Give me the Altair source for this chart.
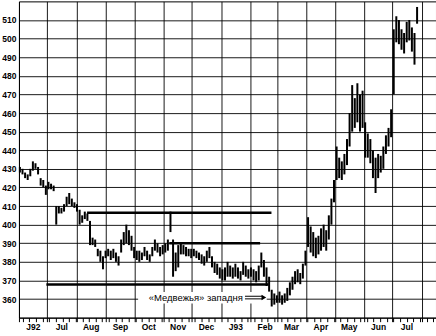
import altair as alt
import pandas as pd

# ---------------- data ----------------
month_labels = ["J92", "Jul", "Aug", "Sep", "Oct", "Nov", "Dec", "J93",
                "Feb", "Mar", "Apr", "May", "Jun", "Jul", ""]
y_ticks = list(range(360, 511, 10))

high = [
    431, 430, 428, 427, 430, 434, 433, 431, 425, 424, 421,   # Jun 92
    423, 422, 421, 410, 410, 409, 411, 415, 417, 414, 412,   # Jul
    411, 408, 405, 407, 406, 402, 393, 392, 387, 386, 383,   # Aug
    386, 387, 386, 387, 385, 383, 392, 396, 400, 397, 394,   # Sep
    388, 386, 386, 385, 388, 386, 384, 388, 392, 390, 388,   # Oct
    389, 390, 392, 407, 392, 385, 389, 390, 389, 388, 387,   # Nov
    387, 387, 386, 385, 384, 383, 386, 388, 383, 380, 379,   # Dec
    377, 376, 377, 380, 378, 377, 379, 377, 375, 380, 378,   # Jan 93
    376, 377, 376, 375, 378, 385, 381, 377, 372, 365, 363,   # Feb
    362, 364, 362, 363, 366, 369, 372, 375, 376, 374, 379,   # Mar
    386, 404, 399, 396, 393, 394, 398, 400, 397, 405, 414,   # Apr
    424, 442, 436, 434, 438, 446, 460, 475, 468, 476, 470,   # May
    472, 455, 449, 446, 440, 436, 438, 437, 442, 448, 452,   # Jun
    462, 505, 512, 510, 505, 503, 509, 510, 506, 503, 517,   # Jul
]
low = [
    428, 427, 425, 424, 426, 429, 430, 427, 421, 420, 416,
    419, 419, 418, 400, 406, 406, 407, 410, 411, 410, 409,
    407, 400, 401, 403, 402, 389, 389, 388, 383, 380, 376,
    382, 383, 381, 382, 380, 378, 385, 389, 390, 389, 386,
    382, 381, 380, 381, 383, 381, 380, 383, 386, 385, 383,
    384, 385, 386, 396, 372, 375, 377, 384, 384, 383, 383,
    382, 383, 382, 381, 379, 378, 380, 382, 377, 374, 373,
    371, 370, 370, 372, 372, 371, 372, 371, 370, 373, 372,
    371, 372, 370, 369, 370, 377, 372, 367, 364, 356, 357,
    358, 358, 357, 358, 359, 362, 365, 368, 369, 368, 371,
    378, 388, 385, 383, 382, 384, 386, 388, 386, 392, 400,
    412, 424, 425, 424, 427, 432, 442, 450, 452, 455, 450,
    452, 436, 436, 433, 425, 417, 425, 428, 430, 438, 442,
    447, 470, 498, 497, 494, 492, 498, 499, 493, 486, 508,
]

level_value = [406.4, 390.0, 367.8]
level_from = ["1992-08-12", "1992-11-07", "1992-06-30"]
level_to = ["1993-02-23", "1993-02-11", "1993-02-20"]

note_text = "«Медвежья» западня"

# ---------------- tables ----------------
dates = pd.date_range("1992-06-02", "1993-07-27", periods=len(high))
bars = pd.DataFrame({"date": dates, "high": high, "low": low})
levels = pd.DataFrame({"date": pd.to_datetime(level_from),
                       "end": pd.to_datetime(level_to),
                       "low": level_value})
note_bg = pd.DataFrame({"date": [pd.Timestamp("1992-10-05")], "end": [pd.Timestamp("1993-02-18")],
                        "low": [357.6], "high": [363.8]})
note = pd.DataFrame({"date": [pd.Timestamp("1992-12-05")], "low": [360.8], "t": [note_text]})
arrow = pd.DataFrame({"date": [pd.Timestamp("1993-01-26")] * 2, "end": [pd.Timestamp("1993-02-14")] * 2,
                      "low": [360.1, 361.5]})
arrow_head = pd.DataFrame({"date": [pd.Timestamp("1993-02-15")], "low": [360.8]})


def dt(ts):
    return alt.DateTime(year=ts.year, month=ts.month, date=ts.day)


month_starts = pd.date_range("1992-06-01", "1993-08-01", freq="MS")
weekly = pd.date_range("1992-06-05", "1993-08-13", freq="W-FRI")
tick_dates = sorted(set(month_starts) | set(weekly))

x_scale = alt.Scale(domain=[alt.DateTime(year=1992, month=6, date=1),
                            alt.DateTime(year=1993, month=8, date=16)])
y_scale = alt.Scale(domain=[350, 520], nice=False, zero=False)

label_array = "[" + ",".join(f"'{m}'" for m in month_labels) + "]"
label_expr = (f"date(datum.value) == 1 ? {label_array}"
              f"[(year(datum.value) - 1992) * 12 + month(datum.value) - 5] : ''")

x_axis = alt.Axis(
    values=[dt(t) for t in tick_dates], title=None, grid=True,
    gridColor="black", gridWidth=1,
    gridOpacity={"condition": {"test": "date(datum.value) == 1", "value": 0.9}, "value": 0},
    labelExpr=label_expr, labelOffset=14, labelOverlap=False, labelFlush=False,
    tickSize=4, tickColor="black", tickWidth=1, domainColor="black", labelPadding=1,
    labelFontSize=8.5, labelFontWeight="bold", labelColor="black", labelFont="Liberation Sans",
)
y_axis = alt.Axis(
    values=y_ticks, title=None, grid=True, gridColor="black", gridWidth=1, gridOpacity=0.9,
    ticks=False, domain=False, labelPadding=3, labelFontSize=8.5, labelFontWeight="bold",
    labelColor="black", labelFont="Liberation Sans",
)

X = alt.X("date:T", scale=x_scale, axis=x_axis)
Y = alt.Y("low:Q", scale=y_scale, axis=y_axis)

bar_layer = alt.Chart(bars).mark_rule(color="black", strokeWidth=2).encode(
    x=X, y=Y, y2="high:Q",
)

level_layer = alt.Chart(levels).mark_rule(color="black", strokeWidth=2.5).encode(
    x=X, x2="end:T", y=Y,
)

bg_layer = alt.Chart(note_bg).mark_rect(color="white").encode(
    x=X, x2="end:T", y=Y, y2="high:Q",
)

text_layer = alt.Chart(note).mark_text(
    font="Liberation Sans", fontSize=9.5, color="black", align="center", baseline="middle"
).encode(x=X, y=Y, text="t:N")

arrow_layer = alt.Chart(arrow).mark_rule(color="black", strokeWidth=1).encode(
    x=X, x2="end:T", y=Y,
)

head_layer = alt.Chart(arrow_head).mark_point(
    shape="triangle-right", filled=True, size=30, color="black", opacity=1
).encode(x=X, y=Y)

chart = alt.layer(
    bar_layer, level_layer, bg_layer, text_layer, arrow_layer, head_layer
).properties(
    width=418, height=317,
    padding={"left": 19, "top": 1, "right": 0, "bottom": 18},
    autosize=alt.AutoSizeParams(type="none"),
    background="white",
).configure_view(stroke="black", strokeWidth=1)

chart.save("out.html", embed_options={"renderer": "svg", "actions": False})
